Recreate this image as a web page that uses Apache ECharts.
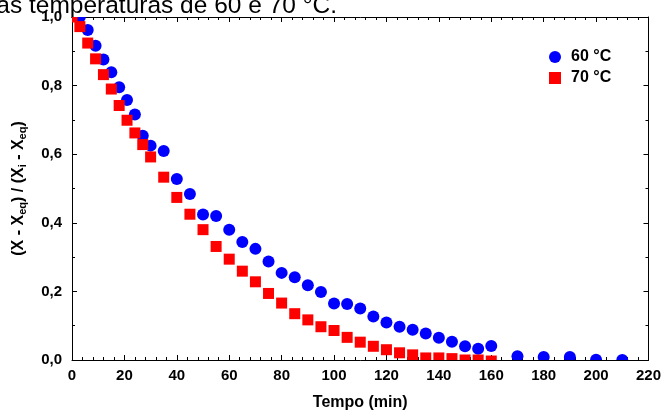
<!DOCTYPE html>
<html>
<head>
<meta charset="utf-8">
<script src="https://cdn.jsdelivr.net/npm/echarts@6/dist/echarts.min.js"></script>
<style>
  html, body { margin: 0; padding: 0; background: #fff; }
  #chart { width: 664px; height: 416px; }
</style>
</head>
<body>
<div id="chart"></div>
<script>
// curvas de secagem, razao de umidade x tempo
let tempo60 = [3, 6, 9, 12, 15, 18, 21, 24, 27, 30, 35, 40, 45, 50, 55, 60, 65, 70, 75, 80,
  85, 90, 95, 100, 105, 110, 115, 120, 125, 130, 135, 140, 145, 150, 155, 160, 170, 180, 190, 200, 210]
let valores60 = [1.0, 0.962, 0.916, 0.876, 0.839, 0.795, 0.758, 0.716, 0.654, 0.625, 0.609, 0.528, 0.484, 0.424, 0.420, 0.380, 0.344, 0.324, 0.287, 0.254,
  0.241, 0.218, 0.198, 0.165, 0.163, 0.150, 0.127, 0.109, 0.097, 0.088, 0.077, 0.065, 0.053, 0.040, 0.033, 0.041, 0.011, 0.009, 0.009, 0.001, 0.0]

let tempo70 = [0, 3, 6, 9, 12, 15, 18, 21, 24, 27, 30, 35, 40, 45, 50, 55, 60, 65, 70, 75,
  80, 85, 90, 95, 100, 105, 110, 115, 120, 125, 130, 135, 140, 145, 150, 155, 160]
let valores70 = [1.0, 0.972, 0.924, 0.878, 0.832, 0.790, 0.742, 0.699, 0.662, 0.628, 0.592, 0.533, 0.474, 0.425, 0.380, 0.331, 0.294, 0.259, 0.228, 0.194,
  0.166, 0.135, 0.117, 0.097, 0.086, 0.066, 0.052, 0.040, 0.030, 0.021, 0.015, 0.006, 0.006, 0.004, 0.0, 0.0, -0.003]

let xTicks = [0, 20, 40, 60, 80, 100, 120, 140, 160, 180, 200, 220]
let yTicks = [0, 0.2, 0.4, 0.6, 0.8, 1.0]

function pares(ts, vs) {
  return ts.map(function (t, i) { return [t, vs[i]] })
}

let fonte = '"Liberation Sans", Arial, sans-serif'

function virgula(v) {
  return v.toFixed(1).replace('.', ',')
}

// marcadores desenhados pelo custom series para serem cortados na borda do grid
function circulo(params, api) {
  let p = api.coord([api.value(0), api.value(1)])
  return { type: 'circle', shape: { cx: p[0], cy: p[1], r: 6 }, style: { fill: '#0000ff' } }
}

function quadrado(params, api) {
  let p = api.coord([api.value(0), api.value(1)])
  return { type: 'rect', shape: { x: p[0] - 5.5, y: p[1] - 5.5, width: 11, height: 11 }, style: { fill: '#ff0000' } }
}

let eixoX = {
  type: 'value',
  min: xTicks[0],
  max: xTicks[xTicks.length - 1],
  interval: xTicks[1] - xTicks[0],
  axisLine: { show: true, onZero: false, lineStyle: { color: '#000', width: 1 } },
  axisTick: { show: true, inside: true, length: 5, lineStyle: { color: '#000' } },
  minorTick: { show: true, splitNumber: 5, length: 3, lineStyle: { color: '#000' } },
  splitLine: { show: false }
}

let eixoY = {
  type: 'value',
  min: yTicks[0],
  max: yTicks[yTicks.length - 1],
  interval: yTicks[1] - yTicks[0],
  axisLine: { show: true, onZero: false, lineStyle: { color: '#000', width: 1 } },
  axisTick: { show: true, inside: true, length: 5, lineStyle: { color: '#000' } },
  minorTick: { show: true, splitNumber: 2, length: 3, lineStyle: { color: '#000' } },
  splitLine: { show: false }
}

let option = {
  animation: false,
  backgroundColor: '#fff',
  textStyle: { fontFamily: fonte },
  grid: { left: 72, right: 15, top: 17, bottom: 52 },
  graphic: [{
    type: 'text',
    x: 337,
    y: 19,
    style: {
      text: 'nas temperaturas de 60 e 70 °C.',
      font: 'normal 24.5px ' + fonte,
      fill: '#000',
      align: 'right',
      verticalAlign: 'bottom'
    },
    z: 0
  }],
  legend: {
    orient: 'vertical',
    left: 544,
    top: 44,
    itemWidth: 12,
    itemHeight: 12,
    itemGap: 5,
    textStyle: { fontFamily: fonte, fontWeight: 'bold', fontSize: 16, color: '#000', padding: [0, 0, 0, 5] },
    data: [
      { name: '60 °C', icon: 'circle' },
      { name: '70 °C', icon: 'rect' }
    ]
  },
  xAxis: [
    Object.assign({}, eixoX, {
      position: 'bottom',
      name: 'Tempo (min)',
      nameLocation: 'middle',
      nameGap: 35,
      nameTextStyle: { fontFamily: fonte, fontWeight: 'bold', fontSize: 16, color: '#000' },
      axisLabel: { color: '#000', fontFamily: fonte, fontWeight: 'bold', fontSize: 15, margin: 8 }
    }),
    Object.assign({}, eixoX, { position: 'top', axisLabel: { show: false } })
  ],
  yAxis: [
    Object.assign({}, eixoY, {
      position: 'left',
      name: '(X - X{s|eq}) / (X{s|i} - X{s|eq})',
      nameLocation: 'middle',
      nameGap: 44,
      nameTextStyle: {
        fontFamily: fonte, fontWeight: 'bold', fontSize: 16, color: '#000',
        rich: {
          s: { fontFamily: fonte, fontWeight: 'bold', fontSize: 11, color: '#000', verticalAlign: 'bottom', padding: [7, 0, 0, 0] }
        }
      },
      axisLabel: { color: '#000', fontFamily: fonte, fontWeight: 'bold', fontSize: 15, margin: 10, formatter: virgula }
    }),
    Object.assign({}, eixoY, { position: 'right', axisLabel: { show: false } })
  ],
  series: [
    {
      name: '60 °C',
      type: 'custom',
      renderItem: circulo,
      clip: true,
      itemStyle: { color: '#0000ff' },
      encode: { x: 0, y: 1 },
      z: 2,
      data: pares(tempo60, valores60)
    },
    {
      name: '70 °C',
      type: 'custom',
      renderItem: quadrado,
      clip: true,
      itemStyle: { color: '#ff0000' },
      encode: { x: 0, y: 1 },
      z: 3,
      data: pares(tempo70, valores70)
    }
  ]
}

let chart = echarts.init(document.getElementById('chart'))
chart.setOption(option)
</script>
</body>
</html>
